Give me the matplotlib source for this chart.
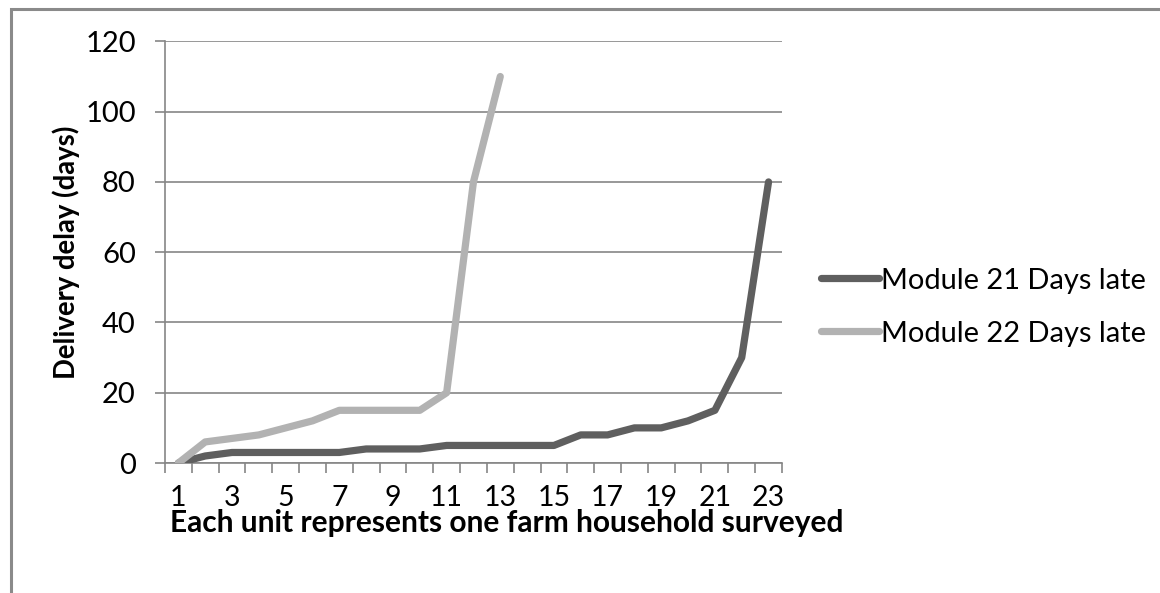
import matplotlib
matplotlib.use("Agg")
import matplotlib.pyplot as plt
from matplotlib.patches import Rectangle

plt.rcParams['font.family'] = ['Lato', 'DejaVu Sans']

units = list(range(1, 24))
module21 = [0, 2, 3, 3, 3, 3, 3, 4, 4, 4, 5, 5, 5, 5, 5, 8, 8, 10, 10, 12, 15, 30, 80]
module22 = [0, 6, 7, 8, 10, 12, 15, 15, 15, 15, 20, 80, 110]
labels = ['Module 21 Days late', 'Module 22 Days late']
colors = ['#5f5f5f', '#b2b2b2']

W, H = 1160, 593
fig = plt.figure(figsize=(W / 100, H / 100), dpi=100)
ax = fig.add_axes([0.1422, 0.2192, 0.5319, 0.711])

ax.plot(units, module21, color=colors[0], lw=5.2, solid_capstyle='round',
        solid_joinstyle='round', label=labels[0], zorder=3)
ax.plot(units[:len(module22)], module22, color=colors[1], lw=5.2,
        solid_capstyle='round', solid_joinstyle='round', label=labels[1], zorder=3)

grid_c = '#868686'
ax.set_xlim(0.5, 23.5)
ax.set_ylim(0, 120)
ax.set_yticks(range(0, 121, 20))
ax.set_xticks(range(1, 24, 2))
ax.set_xticks([i + 0.5 for i in range(0, 24)], minor=True)
ax.tick_params(axis='x', which='major', length=0, pad=16, labelsize=20.5)
ax.tick_params(axis='x', which='minor', length=7, color=grid_c, width=1.2)
ax.tick_params(axis='y', length=7, color=grid_c, width=1.2, pad=14, labelsize=21)
ax.grid(axis='y', color=grid_c, lw=1.2)
for s in ['top', 'right']:
    ax.spines[s].set_visible(False)
for s in ['left', 'bottom']:
    ax.spines[s].set_color(grid_c)
    ax.spines[s].set_linewidth(1.2)

# axis titles placed in figure pixels, like the Excel layout
fig.text(66 / W, 1 - 252 / H, 'Delivery delay (days)', rotation=90,
         ha='center', va='center', fontsize=19.8, fontweight='bold')
fig.text(507 / W, 1 - 523 / H, 'Each unit represents one farm household surveyed',
         ha='center', va='center', fontsize=21.5, fontweight='bold')

leg = ax.legend(loc='center left', bbox_to_anchor=(1.045, 0.37), frameon=False,
                fontsize=20.9, handlelength=1.97, handletextpad=0.08,
                labelspacing=0.93, borderaxespad=0)
for h in leg.get_lines():
    h.set_solid_capstyle('round')

fig.patches.append(Rectangle((11 / W, -0.1), 1.2, 1 - 9 / H + 0.1,
                             transform=fig.transFigure, fill=False,
                             edgecolor='#8a8a8a', lw=2.2, figure=fig))

fig.savefig('out.png', dpi=100)
